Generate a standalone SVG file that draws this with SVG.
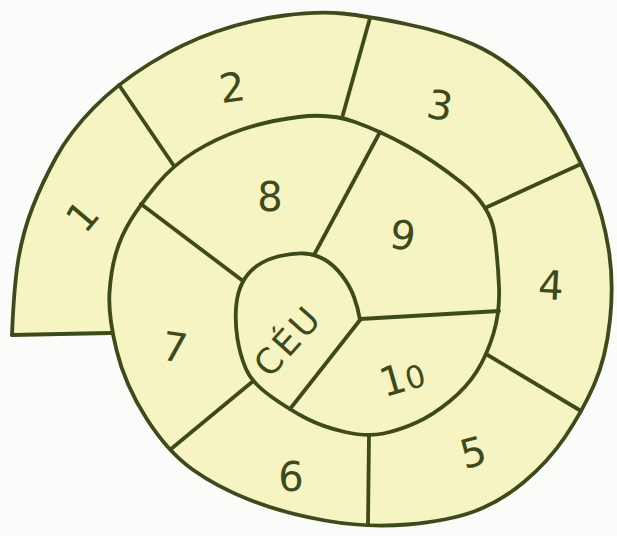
<svg xmlns="http://www.w3.org/2000/svg" width="617" height="536" viewBox="0 0 617 536">
<style>
.ln{fill:none;stroke:#3f4a1c;stroke-width:3.8;stroke-linecap:round;stroke-linejoin:round}
.lb{font-family:"DejaVu Sans","Liberation Sans",sans-serif;font-size:40px;fill:#3f4a1c;text-anchor:middle}
</style>
<rect width="617" height="536" fill="#fbfbf9"/>
<g id="board">
<path id="fill" fill="#f6f4c2" d="M12,335 Q14,285 18.5,258.5 Q23,232 32.5,207.5 Q42,183 56,157.5 Q70,132 93.5,108 Q117,84 150,63.5 Q183,43 216.5,31.5 Q250,20 284,15.5 Q318,11 342.5,13.5 Q367,16 406,24 Q445,32 472.5,44 Q500,56 524,78 Q548,100 565,132 Q582,164 592.5,189.5 Q603,215 608.5,248.5 Q614,282 610,320 Q606,358 594,385 Q582,412 565,437 Q548,462 524,482 Q500,502 474,511.5 Q448,521 407.5,524.5 Q367,528 325,520.5 Q283,513 250,500 Q217,487 192.5,469.5 Q168,452 146.5,418.5 Q125,385 116.5,350 L111,333 L12,335 Z"/>
<path id="spiral" class="ln" d="M12,335 Q14,285 18.5,258.5 Q23,232 32.5,207.5 Q42,183 56,157.5 Q70,132 93.5,108 Q117,84 150,63.5 Q183,43 216.5,31.5 Q250,20 284,15.5 Q318,11 342.5,13.5 Q367,16 406,24 Q445,32 472.5,44 Q500,56 524,78 Q548,100 565,132 Q582,164 592.5,189.5 Q603,215 608.5,248.5 Q614,282 610,320 Q606,358 594,385 Q582,412 565,437 Q548,462 524,482 Q500,502 474,511.5 Q448,521 407.5,524.5 Q367,528 325,520.5 Q283,513 250,500 Q217,487 192.5,469.5 Q168,452 146.5,418.5 Q125,385 116.5,350 Q108,315 109.5,292.5 Q111,270 116,253 Q121,236 130.5,220.5 Q140,205 156.5,185 Q173,165 195,151.5 Q217,138 242,129.5 Q267,121 298.5,117 Q330,113 355,122 Q380,131 406.5,145.5 Q433,160 462,183 Q491,206 494.5,234 Q498,262 499,287 Q500,312 493.5,333.5 Q487,355 477,371 Q467,387 450,401 Q433,415 416.5,422.5 Q400,430 383.5,433.5 Q367,437 345,432 Q323,427 306.5,418.5 Q290,410 271,396.5 Q252,383 246,369 Q240,355 237.5,339 Q235,323 236,308 Q237,293 242.5,282.5 Q248,272 257.5,265.5 Q267,259 280,256 Q293,253 304,253.5 Q315,254 324.5,259.5 Q334,265 342,275.5 Q350,286 354,297 Q358,308 360,320"/>
</g>
<g id="connectors" class="ln">
<path d="M12,335 L60,334 L111,333"/>
<path d="M119,85 L174,166"/>
<path d="M370,18 L342,118"/>
<path d="M581,164 L485,208"/>
<path d="M581,411 L486,354"/>
<path d="M369,435 L368,525"/>
<path d="M252,382 L171,449"/>
<path d="M141,204 L243,281"/>
<path d="M380,132 L314,255"/>
<path d="M360,319 L499,311"/>
<path d="M360,320 L290,409"/>
</g>
<g id="cell-1"><text class="lb" x="82" y="230.5" transform="rotate(-50 82 216)">1</text></g>
<g id="cell-2"><text class="lb" x="232" y="101.5" transform="rotate(-8 232 87)">2</text></g>
<g id="cell-3"><text class="lb" x="440" y="119.5" transform="rotate(10 440 105)">3</text></g>
<g id="cell-4"><text class="lb" x="551" y="299.5" transform="rotate(3 551 285)">4</text></g>
<g id="cell-5"><text class="lb" x="473" y="466.5" transform="rotate(-15 473 452)">5</text></g>
<g id="cell-6"><text class="lb" x="291" y="490.5">6</text></g>
<g id="cell-7"><text class="lb" x="175" y="361.5" transform="rotate(8 175 347)">7</text></g>
<g id="cell-8"><text class="lb" x="270" y="210.5">8</text></g>
<g id="cell-9"><text class="lb" x="403" y="249.5" transform="rotate(8 403 235)">9</text></g>
<g id="cell-10"><text class="lb" x="402" y="391.5" transform="rotate(-16 402 377)">1<tspan font-size="31">0</tspan></text></g>
<g id="ceu"><text class="lb" style="font-size:35px" letter-spacing="3" x="297" y="349" transform="rotate(-48 297 349)">CÉU</text></g>
</svg>
